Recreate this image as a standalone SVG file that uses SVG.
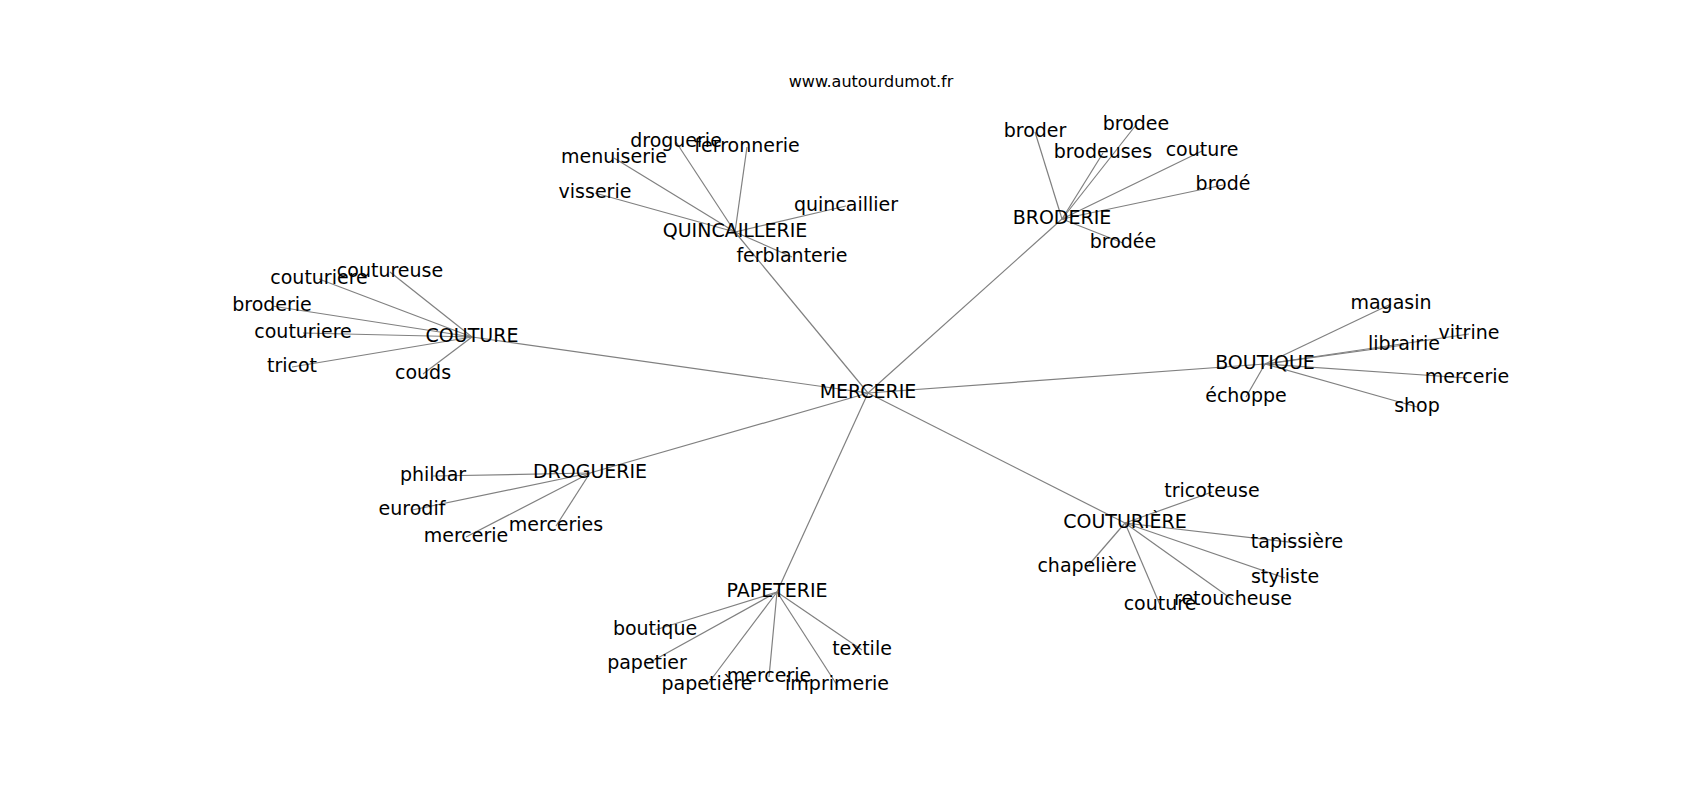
<svg xmlns="http://www.w3.org/2000/svg" width="1700" height="800" viewBox="0 0 1700 800">
<style>
.e line{stroke:#808080;stroke-width:1.2;fill:none}
text{font-family:"DejaVu Sans",sans-serif;font-size:19px;fill:#000;text-anchor:middle}
.t{font-size:16px}
</style>
<rect width="1700" height="800" fill="#fff"/>
<text class="t" x="871" y="87">www.autourdumot.fr</text>
<g id="edges" class="e">
<line x1="868" y1="393" x2="735" y2="232"/>
<line x1="868" y1="393" x2="1062" y2="219"/>
<line x1="868" y1="393" x2="472" y2="337"/>
<line x1="868" y1="393" x2="1265" y2="364"/>
<line x1="868" y1="393" x2="590" y2="473"/>
<line x1="868" y1="393" x2="1125" y2="523"/>
<line x1="868" y1="393" x2="777" y2="592"/>
<line x1="735" y1="232" x2="676" y2="142"/>
<line x1="735" y1="232" x2="747" y2="147"/>
<line x1="735" y1="232" x2="614" y2="158"/>
<line x1="735" y1="232" x2="595" y2="193"/>
<line x1="735" y1="232" x2="846" y2="206"/>
<line x1="735" y1="232" x2="792" y2="257"/>
<line x1="1062" y1="219" x2="1035" y2="132"/>
<line x1="1062" y1="219" x2="1136" y2="125"/>
<line x1="1062" y1="219" x2="1103" y2="153"/>
<line x1="1062" y1="219" x2="1202" y2="151"/>
<line x1="1062" y1="219" x2="1223" y2="185"/>
<line x1="1062" y1="219" x2="1123" y2="243"/>
<line x1="472" y1="337" x2="390" y2="272"/>
<line x1="472" y1="337" x2="319" y2="279"/>
<line x1="472" y1="337" x2="272" y2="306"/>
<line x1="472" y1="337" x2="303" y2="333"/>
<line x1="472" y1="337" x2="292" y2="367"/>
<line x1="472" y1="337" x2="423" y2="374"/>
<line x1="1265" y1="364" x2="1391" y2="304"/>
<line x1="1265" y1="364" x2="1404" y2="345"/>
<line x1="1265" y1="364" x2="1469" y2="334"/>
<line x1="1265" y1="364" x2="1467" y2="378"/>
<line x1="1265" y1="364" x2="1417" y2="407"/>
<line x1="1265" y1="364" x2="1246" y2="397"/>
<line x1="590" y1="473" x2="433" y2="476"/>
<line x1="590" y1="473" x2="412" y2="510"/>
<line x1="590" y1="473" x2="466" y2="537"/>
<line x1="590" y1="473" x2="556" y2="526"/>
<line x1="1125" y1="523" x2="1212" y2="492"/>
<line x1="1125" y1="523" x2="1297" y2="543"/>
<line x1="1125" y1="523" x2="1285" y2="578"/>
<line x1="1125" y1="523" x2="1233" y2="600"/>
<line x1="1125" y1="523" x2="1160" y2="605"/>
<line x1="1125" y1="523" x2="1087" y2="567"/>
<line x1="777" y1="592" x2="655" y2="630"/>
<line x1="777" y1="592" x2="647" y2="664"/>
<line x1="777" y1="592" x2="707" y2="685"/>
<line x1="777" y1="592" x2="769" y2="677"/>
<line x1="777" y1="592" x2="837" y2="685"/>
<line x1="777" y1="592" x2="862" y2="650"/>
</g>
<g id="n-mercerie"><text x="868" y="398">MERCERIE</text></g>
<g id="n-quincaillerie"><text x="735" y="237">QUINCAILLERIE</text></g>
<g id="n-droguerie1"><text x="676" y="147">droguerie</text></g>
<g id="n-ferronnerie"><text x="747" y="152">ferronnerie</text></g>
<g id="n-menuiserie"><text x="614" y="163">menuiserie</text></g>
<g id="n-visserie"><text x="595" y="198">visserie</text></g>
<g id="n-quincaillier"><text x="846" y="211">quincaillier</text></g>
<g id="n-ferblanterie"><text x="792" y="262">ferblanterie</text></g>
<g id="n-broderie"><text x="1062" y="224">BRODERIE</text></g>
<g id="n-broder"><text x="1035" y="137">broder</text></g>
<g id="n-brodee"><text x="1136" y="130">brodee</text></g>
<g id="n-brodeuses"><text x="1103" y="158">brodeuses</text></g>
<g id="n-couture1"><text x="1202" y="156">couture</text></g>
<g id="n-brode"><text x="1223" y="190">brodé</text></g>
<g id="n-brodee2"><text x="1123" y="248">brodée</text></g>
<g id="n-couture"><text x="472" y="342">COUTURE</text></g>
<g id="n-coutureuse"><text x="390" y="277">coutureuse</text></g>
<g id="n-couturiere1"><text x="319" y="284">couturiere</text></g>
<g id="n-broderie2"><text x="272" y="311">broderie</text></g>
<g id="n-couturiere2"><text x="303" y="338">couturiere</text></g>
<g id="n-tricot"><text x="292" y="372">tricot</text></g>
<g id="n-couds"><text x="423" y="379">couds</text></g>
<g id="n-boutique"><text x="1265" y="369">BOUTIQUE</text></g>
<g id="n-magasin"><text x="1391" y="309">magasin</text></g>
<g id="n-librairie"><text x="1404" y="350">librairie</text></g>
<g id="n-vitrine"><text x="1469" y="339">vitrine</text></g>
<g id="n-mercerie2"><text x="1467" y="383">mercerie</text></g>
<g id="n-shop"><text x="1417" y="412">shop</text></g>
<g id="n-echoppe"><text x="1246" y="402">échoppe</text></g>
<g id="n-droguerie"><text x="590" y="478">DROGUERIE</text></g>
<g id="n-phildar"><text x="433" y="481">phildar</text></g>
<g id="n-eurodif"><text x="412" y="515">eurodif</text></g>
<g id="n-mercerie3"><text x="466" y="542">mercerie</text></g>
<g id="n-merceries"><text x="556" y="531">merceries</text></g>
<g id="n-couturiere"><text x="1125" y="528">COUTURIÈRE</text></g>
<g id="n-tricoteuse"><text x="1212" y="497">tricoteuse</text></g>
<g id="n-tapissiere"><text x="1297" y="548">tapissière</text></g>
<g id="n-styliste"><text x="1285" y="583">styliste</text></g>
<g id="n-retoucheuse"><text x="1233" y="605">retoucheuse</text></g>
<g id="n-couture2"><text x="1160" y="610">couture</text></g>
<g id="n-chapeliere"><text x="1087" y="572">chapelière</text></g>
<g id="n-papeterie"><text x="777" y="597">PAPETERIE</text></g>
<g id="n-boutique2"><text x="655" y="635">boutique</text></g>
<g id="n-papetier"><text x="647" y="669">papetier</text></g>
<g id="n-papetiere"><text x="707" y="690">papetière</text></g>
<g id="n-mercerie4"><text x="769" y="682">mercerie</text></g>
<g id="n-imprimerie"><text x="837" y="690">imprimerie</text></g>
<g id="n-textile"><text x="862" y="655">textile</text></g>
</svg>
